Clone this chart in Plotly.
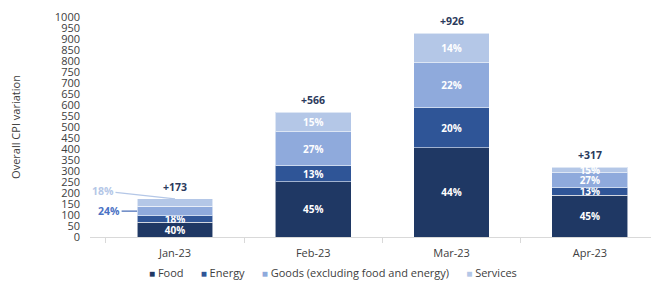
import plotly.graph_objects as go

months = ["Jan-23", "Feb-23", "Mar-23", "Apr-23"]
food = [66, 252, 406, 189]
energy = [31, 73, 181, 36]
goods = [42, 154, 206, 66]
services = [34, 87, 133, 26]
totals = [173, 566, 926, 317]

food_lbl = ["40%", "45%", "44%", "45%"]
energy_lbl = ["18%", "13%", "20%", "13%"]
goods_lbl = ["", "27%", "22%", "27%"]
services_lbl = ["", "15%", "14%", "15%"]
jan_goods_lbl = "24%"
jan_services_lbl = "18%"

C_FOOD = "#1f3864"
C_ENERGY = "#2f5597"
C_GOODS = "#8faadc"
C_SERV = "#b4c7e7"
FONT = "Open Sans"

fig = go.Figure()
series = [
    ("Food", food, food_lbl, C_FOOD),
    ("Energy", energy, energy_lbl, C_ENERGY),
    ("Goods (excluding food and energy)", goods, goods_lbl, C_GOODS),
    ("Services", services, services_lbl, C_SERV),
]
for name, vals, lbls, col in series:
    fig.add_trace(go.Bar(
        name=name, x=months, y=vals, text=lbls,
        marker=dict(color=col, line=dict(color="rgba(255,255,255,0.55)", width=1)),
        textposition="inside", insidetextanchor="middle", textangle=0,
        constraintext="none",
        textfont=dict(family=FONT, size=10, color="white", weight="bold"),
        hoverinfo="skip", showlegend=False,
    ))

annotations = []
for m, t in zip(months, totals):
    annotations.append(dict(
        x=m, y=t, text=f"+{t}", showarrow=False, yanchor="bottom", yshift=3,
        font=dict(family=FONT, size=10.5, color="#2b3a5c", weight="bold"),
    ))

# Jan-23 outside labels with leader lines
annotations.append(dict(
    x=0, y=totals[0], xref="x", yref="y", text=jan_services_lbl,
    showarrow=True, arrowhead=0, arrowwidth=1.2, arrowcolor=C_SERV,
    ax=-72, ay=-8, font=dict(family=FONT, size=10.5, color=C_SERV, weight="bold"),
))
annotations.append(dict(
    x=-0.274, y=food[0] + energy[0] + goods[0] / 2, xref="x", yref="y", text=jan_goods_lbl,
    showarrow=True, arrowhead=0, arrowwidth=1.2, arrowcolor="#4a6fb8",
    ax=-28, ay=0, font=dict(family=FONT, size=10.5, color="#4a72c4", weight="bold"),
))

# Custom compact legend
gap = "&nbsp;" * 6
legend_parts = []
for name, _, _, col in series:
    legend_parts.append(
        f'<span style="color:{col};font-size:10px">■</span> {name}'
    )
legend_text = gap.join(legend_parts)
annotations.append(dict(
    xref="paper", yref="paper", x=(333 - 90) / 569, y=-(272 - 237) / 220,
    xanchor="center", yanchor="middle", showarrow=False, text=legend_text,
    font=dict(family=FONT, size=11, color="#404040"),
))

# The page body adds an 8px offset; size/margins compensate for it.
fig.update_layout(
    barmode="stack",
    width=651, height=280,
    margin=dict(l=82, r=0, t=9, b=51),
    paper_bgcolor="white", plot_bgcolor="white",
    bargap=0.452,
    font=dict(family=FONT, size=11, color="#404040"),
    uniformtext=dict(minsize=10, mode="show"),
    annotations=annotations,
    showlegend=False,
)
fig.update_yaxes(
    range=[0, 1000], dtick=50, showgrid=False, zeroline=False, showline=False,
    automargin=False,
    tickfont=dict(family=FONT, size=11, color="#404040"),
    ticklabelstandoff=9,
    title=dict(text="Overall CPI variation", font=dict(family=FONT, size=11, color="#404040"), standoff=33),
)
fig.update_xaxes(
    showline=True, linecolor="#d9d9d9", linewidth=1, automargin=False,
    ticks="outside", tickson="boundaries", ticklen=5, tickcolor="#d9d9d9",
    tickfont=dict(family=FONT, size=11, color="#404040"),
    ticklabelstandoff=6,
)

fig.write_html("out.html")
